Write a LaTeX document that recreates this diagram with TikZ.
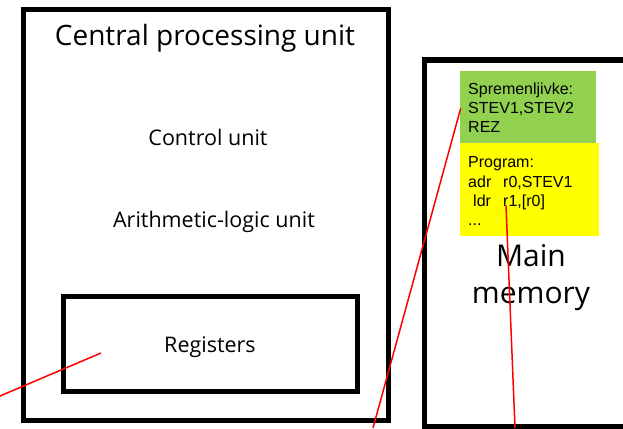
\documentclass[tikz,border=0pt]{standalone}
\usepackage{fontspec}
\setmainfont{Open Sans}
\newfontfamily\arialfont{Liberation Sans}
\definecolor{varsgreen}{HTML}{92D050}
\definecolor{progyellow}{HTML}{FFFF00}
\begin{document}
\begin{tikzpicture}[x=1pt,y=-1pt,
  unitbox/.style={draw=black, line width=5pt, rectangle, inner sep=0pt},
  bigtext/.style={font=\fontsize{28}{33}\selectfont, inner sep=0pt},
  midtext/.style={font=\fontsize{21.5}{26}\selectfont, inner sep=0pt},
  memfill/.style={rectangle, inner sep=0pt, anchor=north west},
  codetext/.style={anchor=base west, inner sep=0pt, font=\arialfont\fontsize{16}{19.3}\selectfont},
  link/.style={draw=red, line width=1.5pt}]
  \clip (0,0) rectangle (623,428);
  \fill[white] (0,0) rectangle (623,428);

  % central processing unit
  \node[unitbox, minimum width=365pt, minimum height=410.5pt] (cpu) at (205.5,215.25) {};
  \node[bigtext] (cputitle) at (205,38) {Central processing unit};
  \node[midtext] (control) at (208,137) {Control unit};
  \node[midtext] (alu) at (214,222) {Arithmetic-logic unit};
  \node[unitbox, minimum width=294.5pt, minimum height=95pt] (reg) at (210.25,344) {};
  \node[midtext] (regtext) at (210,347) {Registers};

  % main memory (runs past the right edge)
  \node[unitbox, minimum width=236pt, minimum height=366pt] (mem) at (542,243) {};
  \node[font=\fontsize{30}{37}\selectfont, align=center, inner sep=0pt] (memtext) at (531,278) {Main\\memory};

  % memory contents
  \node[memfill, fill=varsgreen, minimum width=136pt, minimum height=71.7pt] (vars) at (460,71) {};
  \node[memfill, fill=progyellow, minimum width=139pt, minimum height=93pt] (prog) at (460,142.7) {};
  \node[codetext] (varstext) at (468,94.3)
    {\parbox[t]{130pt}{Spremenljivke:\\STEV1,STEV2\\REZ}};
  \node[codetext] (progtext) at (468,167.7)
    {\parbox[t]{130pt}{Program:\\\makebox[35pt][l]{adr}r0,STEV1\\\hspace*{5pt}\makebox[30pt][l]{ldr}r1,[r0]\\...}};

  % pointers
  \coordinate (regtip) at (101,353);
  \coordinate (regfar) at (0,396);
  \coordinate (vartip) at (460.7,108.3);
  \coordinate (varfar) at (373,428);
  \coordinate (progtip) at (506,205.7);
  \coordinate (progfar) at (515,428);
  \draw[link] (regtip) -- (regfar);
  \draw[link] (vartip) -- (varfar);
  \draw[link] (progtip) -- (progfar);
\end{tikzpicture}
\end{document}
